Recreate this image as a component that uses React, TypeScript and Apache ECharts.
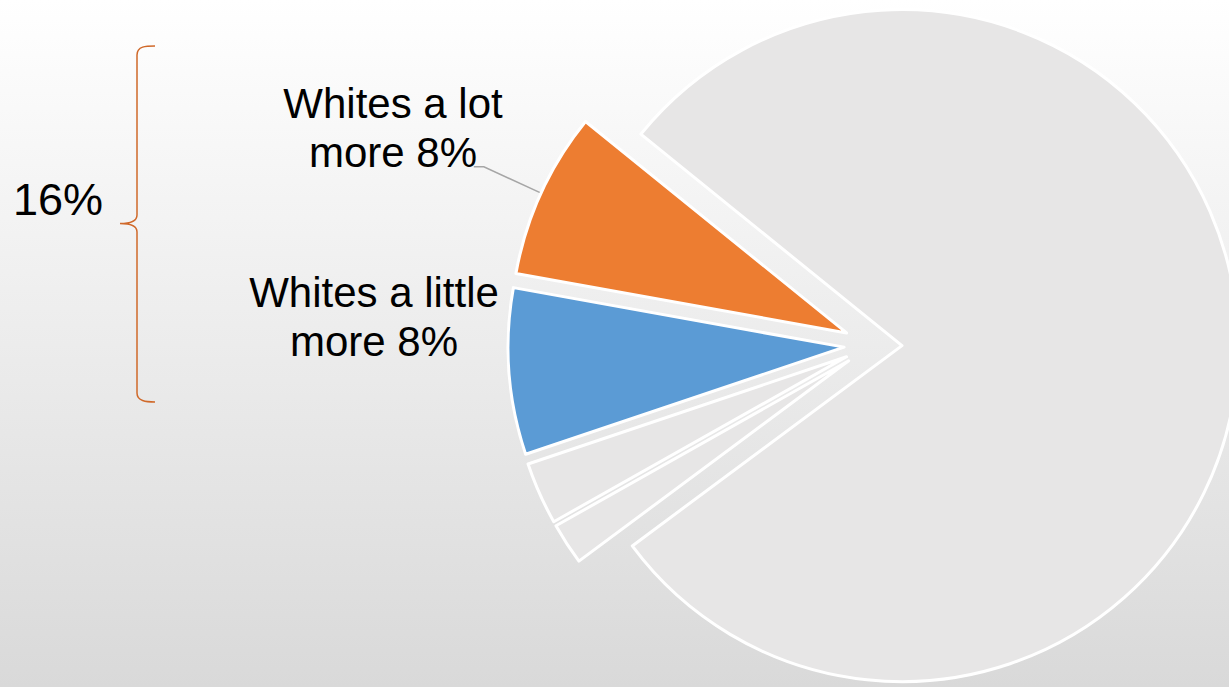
import React, { useEffect, useRef } from 'react';
import * as echarts from 'echarts';

// ---- data ----
const categories = [
  'Whites a lot more',
  'Whites a little more',
  'Blacks a little more',
  'Blacks a lot more',
  'About the same',
];
const values = [8, 8, 3, 2, 79];
const sliceColors = ['#ED7D31', '#5B9BD5', '#E7E6E6', '#E7E6E6', '#E7E6E6'];
const labelled = [true, true, false, false, false];
const leaderShown = [true, false, false, false, false];
const bracketGroup = [0, 1]; // slices summed by the brace label

const FONT = '"Liberation Sans", Arial, sans-serif';
const BRACE_D =
  'M 155 46 C 146 46 137 46 137 55 L 137 215 C 137 221 130 223.5 120 223.5 C 130 223.5 137 226 137 232 L 137 393 C 137 401 146 402 155 402';

const PIE_CENTER = [873, 345];
const PIE_RADIUS = 336;
const EXPLODE = 29;
const START = 141;
const LABEL_POS: Record<number, [number, number]> = {
  0: [393, 128],
  1: [374, 317],
};

let braceRegistered = false;

export default function App() {
  const ref = useRef<HTMLDivElement>(null);

  useEffect(() => {
    if (!ref.current) return;
    if (!braceRegistered) {
      echarts.graphic.registerShape('brace', echarts.graphic.extendPath(BRACE_D, {}) as any);
      braceRegistered = true;
    }
    const chart = echarts.init(ref.current, undefined, { renderer: 'svg' });
    const groupTotal = bracketGroup.reduce((s, i) => s + values[i], 0);

    const option: any = {
      animation: false,
      backgroundColor: new echarts.graphic.LinearGradient(0, 0, 0, 1, [
        { offset: 0, color: '#FFFFFF' },
        { offset: 1, color: '#D9D9D9' },
      ]),
      graphic: [
        {
          type: 'brace',
          x: 0,
          y: 0,
          silent: true,
          style: { stroke: '#D0692A', lineWidth: 1.5, fill: 'none' },
        },
        {
          type: 'text',
          x: 13,
          y: 199,
          silent: true,
          style: {
            text: groupTotal + '%',
            fontSize: 45,
            fontFamily: FONT,
            fill: '#000000',
            verticalAlign: 'middle',
            align: 'left',
          },
        },
      ],
      series: [
        {
          // exploded slices
          type: 'pie',
          center: PIE_CENTER,
          radius: PIE_RADIUS,
          startAngle: START,
          clockwise: false,
          selectedMode: 'multiple',
          selectedOffset: EXPLODE,
          silent: true,
          emphasis: { disabled: true },
          itemStyle: { borderColor: '#FFFFFF', borderWidth: 3 },
          label: { show: false },
          labelLine: { show: false },
          data: categories.map((name, i) => ({
            name,
            value: values[i],
            selected: true,
            itemStyle: { color: sliceColors[i] },
          })),
        },
        {
          // invisible twin carrying the labels, reaching the exploded arcs
          type: 'pie',
          center: PIE_CENTER,
          radius: PIE_RADIUS + EXPLODE,
          startAngle: START,
          clockwise: false,
          silent: true,
          emphasis: { disabled: true },
          avoidLabelOverlap: false,
          itemStyle: { color: 'rgba(0,0,0,0)', borderWidth: 0 },
          label: {
            position: 'outside',
            fontSize: 42,
            lineHeight: 49,
            fontFamily: FONT,
            color: '#000000',
            align: 'center',
            formatter: (p: any) => p.name.replace(' more', '\nmore') + ' ' + p.value + '%',
          },
          labelLine: {
            length: 63,
            length2: 10,
            lineStyle: { color: '#A6A6A6', width: 1.5 },
          },
          labelLayout: (params: any) => {
            const pos = LABEL_POS[params.dataIndex];
            if (!pos) return {};
            return {
              x: pos[0],
              y: pos[1],
              align: 'center',
              verticalAlign: 'middle',
              labelLinePoints: params.labelLinePoints,
            };
          },
          data: categories.map((name, i) => ({
            name,
            value: values[i],
            label: { show: labelled[i] },
            labelLine: { show: leaderShown[i] },
          })),
        },
      ],
    };
    chart.setOption(option);
    return () => chart.dispose();
  }, []);

  return (
    <div
      ref={ref}
      style={{ position: 'absolute', left: 0, top: 0, width: 1229, height: 687 }}
    />
  );
}
